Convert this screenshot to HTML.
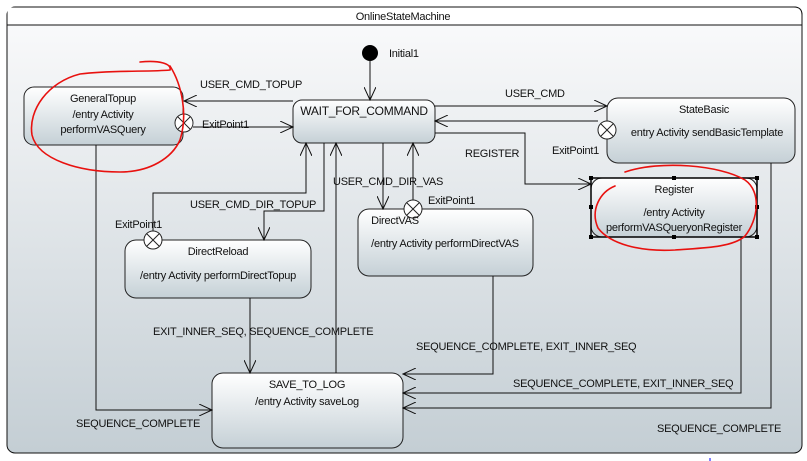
<!DOCTYPE html>
<html><head><meta charset="utf-8"><style>
html,body{margin:0;padding:0;background:#fff;width:807px;height:461px;overflow:hidden}
svg{display:block}
text{font-family:"Liberation Sans",sans-serif;font-size:11px;letter-spacing:-0.25px;fill:#111}
</style></head><body>
<svg width="807" height="461" viewBox="0 0 807 461" xmlns="http://www.w3.org/2000/svg">
<defs>
<linearGradient id="bg" x1="0" y1="0" x2="0" y2="1"><stop offset="0" stop-color="#fbfbfc"/><stop offset="1" stop-color="#c4ced4"/></linearGradient>
<linearGradient id="st" x1="0" y1="0" x2="0" y2="1"><stop offset="0" stop-color="#ffffff"/><stop offset="1" stop-color="#c5d0d6"/></linearGradient>
<marker id="a" markerWidth="14" markerHeight="12" refX="13" refY="6" orient="auto" markerUnits="userSpaceOnUse"><path d="M0,0 L13,6 L0,12" fill="none" stroke="#111" stroke-width="1"/></marker>
</defs>
<rect x="7" y="7" width="795" height="446" rx="8" fill="url(#bg)" stroke="#111" stroke-width="1"/>
<rect x="7.5" y="7.5" width="794" height="18" fill="#fff" stroke="none"/>
<path d="M7,25 H802" stroke="#111"/>
<path d="M15,7 H794 Q802,7 802,15" fill="none" stroke="#111"/>
<text x="403" y="20" text-anchor="middle">OnlineStateMachine</text>

<g fill="url(#st)" stroke="#222" stroke-width="1">
<rect x="24" y="87" width="159" height="58" rx="10"/>
<rect x="293" y="100" width="142" height="43" rx="9"/>
<rect x="607" y="98" width="188" height="65" rx="11"/>
<rect x="591" y="178" width="166" height="59" rx="11"/>
<rect x="358" y="209" width="175" height="67" rx="11"/>
<rect x="125" y="240" width="186" height="58" rx="11"/>
<rect x="212" y="373" width="191" height="75" rx="11"/>
</g>
<rect x="591" y="178" width="166" height="59" fill="none" stroke="#000" stroke-width="1.5"/>
<g fill="#000">
<rect x="589" y="176" width="4" height="4"/><rect x="672" y="176" width="4" height="4"/><rect x="755" y="176" width="4" height="4"/>
<rect x="589" y="205" width="4" height="4"/><rect x="755" y="205" width="4" height="4"/>
<rect x="589" y="235" width="4" height="4"/><rect x="672" y="235" width="4" height="4"/><rect x="755" y="235" width="4" height="4"/>
</g>

<circle cx="370" cy="53" r="8" fill="#000"/>
<text x="389" y="57">Initial1</text>

<g fill="none" stroke="#111" stroke-width="1">
<path d="M370,61 V100" marker-end="url(#a)"/>
<path d="M293,101 H184" marker-end="url(#a)"/>
<path d="M193,127 H293" marker-end="url(#a)"/>
<path d="M435,106 H607" marker-end="url(#a)"/>
<path d="M598,121 H435" marker-end="url(#a)"/>
<path d="M435,133 H525 V184 H591" marker-end="url(#a)"/>
<path d="M383,143 V209" marker-end="url(#a)"/>
<path d="M413,200 V143" marker-end="url(#a)"/>
<path d="M153,231 V193 H306 V143" marker-end="url(#a)"/>
<path d="M324,143 V211 H264 V240" marker-end="url(#a)"/>
<path d="M336,373 V143" marker-end="url(#a)"/>
<path d="M250,298 V373" marker-end="url(#a)"/>
<path d="M493,276 V374 H403" marker-end="url(#a)"/>
<path d="M741,237 V393 H403" marker-end="url(#a)"/>
<path d="M771,163 V408 H403" marker-end="url(#a)"/>
<path d="M96,145 V410 H212" marker-end="url(#a)"/>
</g>

<g fill="#fff" stroke="#222" stroke-width="1">
<circle cx="184" cy="123" r="9"/><path d="M178,117 L190,129 M190,117 L178,129"/>
<circle cx="607" cy="130" r="9"/><path d="M601,124 L613,136 M613,124 L601,136"/>
<circle cx="413" cy="209" r="9"/><path d="M407,203 L419,215 M419,203 L407,215"/>
<circle cx="153" cy="240" r="9"/><path d="M147,234 L159,246 M159,234 L147,246"/>
</g>

<g text-anchor="middle">
<text x="103" y="102">GeneralTopup</text>
<text x="103" y="118">/entry Activity</text>
<text x="103" y="133">performVASQuery</text>
<text x="364" y="115" style="font-size:12px">WAIT_FOR_COMMAND</text>
<text x="704" y="113">StateBasic</text>
<text x="707" y="136">entry Activity sendBasicTemplate</text>
<text x="674" y="193">Register</text>
<text x="674" y="216">/entry Activity</text>
<text x="674" y="231">performVASQueryonRegister</text>
<text x="395" y="224">DirectVAS</text>
<text x="445" y="247">/entry Activity performDirectVAS</text>
<text x="218" y="255">DirectReload</text>
<text x="218" y="279">/entry Activity performDirectTopup</text>
<text x="307" y="388">SAVE_TO_LOG</text>
<text x="307" y="405">/entry Activity saveLog</text>
</g>

<text x="200" y="88">USER_CMD_TOPUP</text>
<text x="202" y="128">ExitPoint1</text>
<text x="505" y="97">USER_CMD</text>
<text x="552" y="154">ExitPoint1</text>
<text x="465" y="157">REGISTER</text>
<text x="333" y="185">USER_CMD_DIR_VAS</text>
<text x="428" y="204">ExitPoint1</text>
<text x="190" y="208">USER_CMD_DIR_TOPUP</text>
<text x="115" y="228">ExitPoint1</text>
<text x="153" y="335">EXIT_INNER_SEQ, SEQUENCE_COMPLETE</text>
<text x="416" y="350">SEQUENCE_COMPLETE, EXIT_INNER_SEQ</text>
<text x="513" y="387">SEQUENCE_COMPLETE, EXIT_INNER_SEQ</text>
<text x="76" y="427">SEQUENCE_COMPLETE</text>
<text x="657" y="432">SEQUENCE_COMPLETE</text>

<g fill="none" stroke="#e8110f" stroke-width="1.6" stroke-linecap="round">
<path d="M140,62 C160,60 172,64 170,70 C150,72 110,70 80,74 C48,82 28,110 32,135 C38,160 80,172 120,172 C150,172 172,158 180,140 C188,115 182,85 170,66"/>
<path d="M625,172 C660,160 720,165 745,180 C762,192 758,220 745,236 C732,248 700,248 675,250 C640,252 610,244 598,228 C590,210 600,192 615,186"/>
</g>
<path d="M710,458 V461" stroke="#0000ff"/>
</svg>
</body></html>
